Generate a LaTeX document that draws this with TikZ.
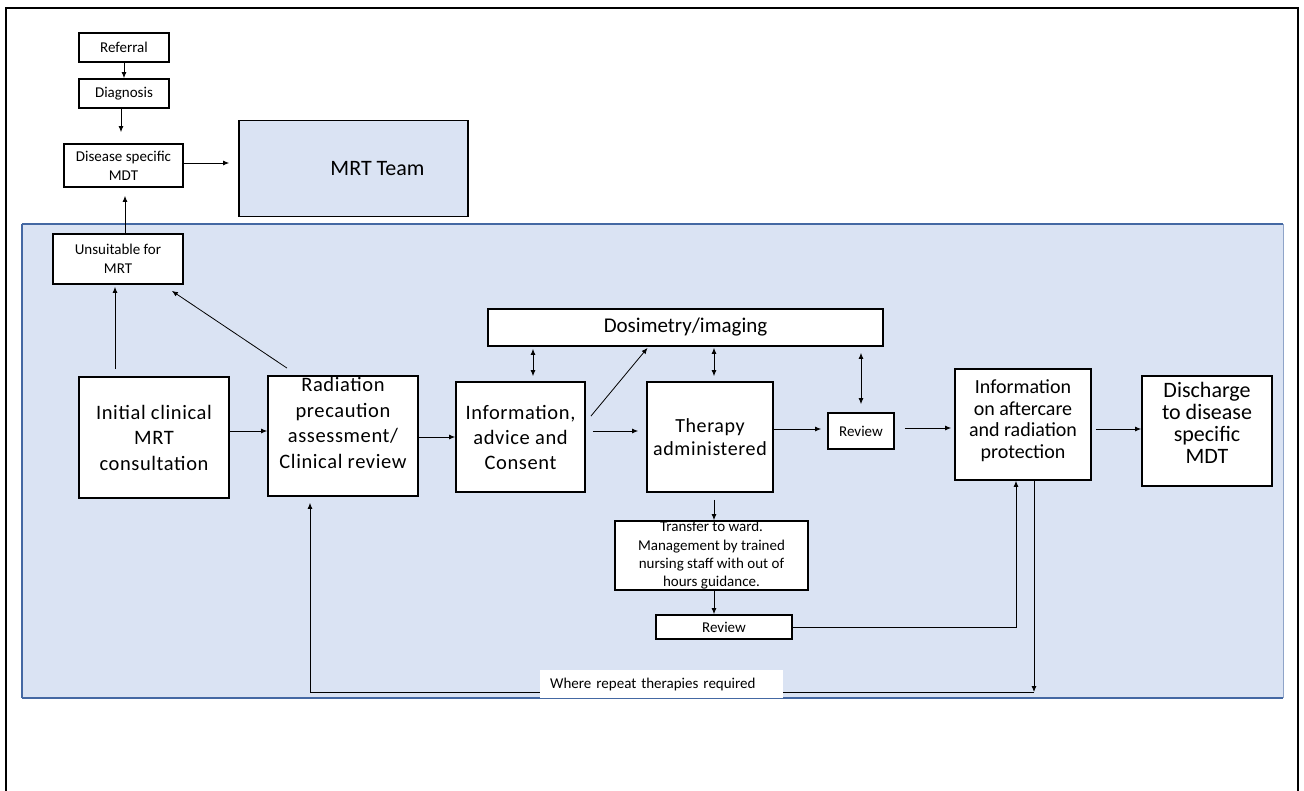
\documentclass[tikz,border=0pt]{standalone}
\usepackage{fontspec}
\setmainfont{Carlito}
\usetikzlibrary{arrows.meta,calc}
\definecolor{panelfill}{RGB}{218,227,243}
\definecolor{panelline}{RGB}{68,104,163}
\newcommand{\fs}[2]{\fontsize{#1}{#2}\selectfont}
\newcommand{\wide}{\addfontfeature{LetterSpace=3}}
\begin{document}
\begin{tikzpicture}[x=1pt,y=-1pt,
  box/.style={draw=black,line width=1.8pt,fill=white,inner sep=0pt,align=center},
  conn/.style={line width=0.8pt,-{Latex[length=6pt,width=5pt]}},
  dconn/.style={line width=0.8pt,{Latex[length=6pt,width=5pt]}-{Latex[length=6pt,width=5pt]}},
  plain/.style={line width=0.8pt}]
\useasboundingbox (0,0) rectangle (1304,790);
% outer frame (open at bottom)
\draw[line width=2.5pt] (6,792) -- (6,8) -- (1298,8) -- (1298,792);
% blue panel
\fill[panelfill] (22,224) rectangle (1283,698);
\draw[panelline,line width=1.2pt] (22,698) -- (22,224);
\draw[panelline!60,line width=0.8pt] (1283,224) -- (1283,698);
\draw[panelline,line width=2pt] (22,224) -- (1283,224);
\draw[panelline,line width=2pt] (22,698) -- (1283,698);

% top nodes
\node[box,minimum width=90,minimum height=29,font=\fs{15}{19}] (ref) at (124,47.5) {Referral};
\node[box,minimum width=90,minimum height=29,font=\fs{15}{19}] (diag) at (124,93.5) {Diagnosis};
\node[box,minimum width=119,minimum height=43,font=\fs{15}{19}] (mdt) at (123.5,165.5) {Disease specific\\MDT};
\node[box,fill=panelfill,minimum width=229,minimum height=96,font=\fs{22}{26}] (mrt) at (353.5,168.5) {\hspace*{48pt}MRT Team};
\node[box,minimum width=130,minimum height=50,font=\fs{15}{19}] (unsuit) at (118,259) {Unsuitable for\\MRT};

% main row
\node[box,minimum width=150,minimum height=121,font=\fs{20.5}{25.5}\wide] (init) at (154,437.5) {Initial clinical\\MRT\\consultation};
\node[box,minimum width=150,minimum height=120] (rad) at (343,436) {};
\node[align=center,inner sep=0pt,font=\fs{20.5}{25.5}\wide] (radtxt) at ([yshift=13pt]rad.center) {Radiation\\precaution\\assessment/\\Clinical review};
\node[box,minimum width=129,minimum height=110,font=\fs{20.5}{25}\wide] (info) at (520.5,437) {Information,\\advice and\\Consent};
\node[box,minimum width=395,minimum height=37,font=\fs{21}{25}] (dos) at (685.5,327.5) {Dosimetry/imaging};
\node[box,minimum width=126,minimum height=110,font=\fs{20}{23}\wide] (ther) at (710,437) {Therapy\\administered};
\node[box,minimum width=66,minimum height=36,font=\fs{15}{19}] (rev1) at (861,431) {Review};
\node[box,minimum width=136,minimum height=111] (after) at (1023,424.5) {};
\node[align=center,inner sep=0pt,font=\fs{20}{21.5}] (aftertxt) at ([yshift=4pt]after.center) {Information\\on aftercare\\and radiation\\protection};
\node[box,minimum width=130,minimum height=110] (disch) at (1207,431) {};
\node[align=center,inner sep=0pt,font=\fs{22}{22}] (dischtxt) at ([yshift=8pt]disch.center) {Discharge\\to disease\\specific\\MDT};
\node[box,minimum width=193,minimum height=69,font=\fs{15}{18.3}] (trans) at (711.5,555.5) {Transfer to ward.\\Management by trained\\nursing staff with out of\\hours guidance.};
\node[box,minimum width=136,minimum height=24,font=\fs{15}{19}] (rev2) at (724,627) {Review};

% connectors (top)
\draw[conn] (ref.south) -- (diag.north);
\draw[conn,shorten >=11pt] (diag.south -| 121,0) -- (mdt.north -| 121,0);
\draw[conn,shorten >=9pt] (mdt.east |- 0,163) -- (mrt.west |- 0,163);
\draw[conn,shorten >=8pt] (unsuit.north -| 125,0) -- (mdt.south -| 125,0);
\draw[conn,shorten <=7pt,shorten >=2pt] (init.north -| 115,0) -- (unsuit.south -| 115,0);
\draw[conn] ([xshift=-56pt,yshift=7pt]rad.north) -- ([xshift=-12pt,yshift=-6pt]unsuit.south east);

% main row connectors
\draw[conn] (init.east |- 0,431) -- (rad.west |- 0,431);
\draw[conn] (rad.east |- 0,437) -- (info.west |- 0,437);
\draw[dconn,shorten <=2pt,shorten >=5pt] (dos.south -| 533,0) -- (info.north -| 533,0);
\draw[conn] ([xshift=5pt,yshift=-35pt]info.north east) -- ([xshift=-38pt,yshift=-1pt]dos.south);
\draw[conn,shorten <=7pt,shorten >=8pt] (info.east |- 0,431) -- (ther.west |- 0,431);
\draw[dconn,shorten <=1pt,shorten >=5pt] (dos.south -| 714,0) -- (ther.north -| 714,0);
\draw[conn,shorten >=6pt] (ther.east |- 0,429) -- (rev1.west |- 0,429);
\draw[dconn,shorten <=6pt,shorten >=8pt] (dos.south -| 861,0) -- (rev1.north -| 861,0);
\draw[conn,shorten <=10pt,shorten >=3pt] (rev1.east |- 0,428) -- (after.west |- 0,428);
\draw[conn,shorten <=4pt] (after.east |- 0,429) -- (disch.west |- 0,429);

% lower connectors
\draw[conn,shorten <=7pt] (ther.south -| 714,0) -- (trans.north -| 714,0);
\draw[conn] (trans.south -| 714,0) -- (rev2.north -| 714,0);
\coordinate (rvc) at (1016,627);
\draw[conn] (rev2.east) -- (rvc) -- (after.south -| rvc);
\coordinate (loopR) at (1034,692);
\coordinate (loopL) at (310,692);
\draw[conn] (after.south -| loopR) -- (loopR);
\draw[conn,shorten >=6pt] (loopR) -- (loopL) -- (rad.south -| loopL);

% label
\node[fill=white,anchor=north west,minimum width=243,minimum height=28,text width=223,inner xsep=10pt,inner ysep=0pt,align=left,font=\fs{15}{18}] (where) at (540,670) {Where repeat therapies required};
\end{tikzpicture}
\end{document}
